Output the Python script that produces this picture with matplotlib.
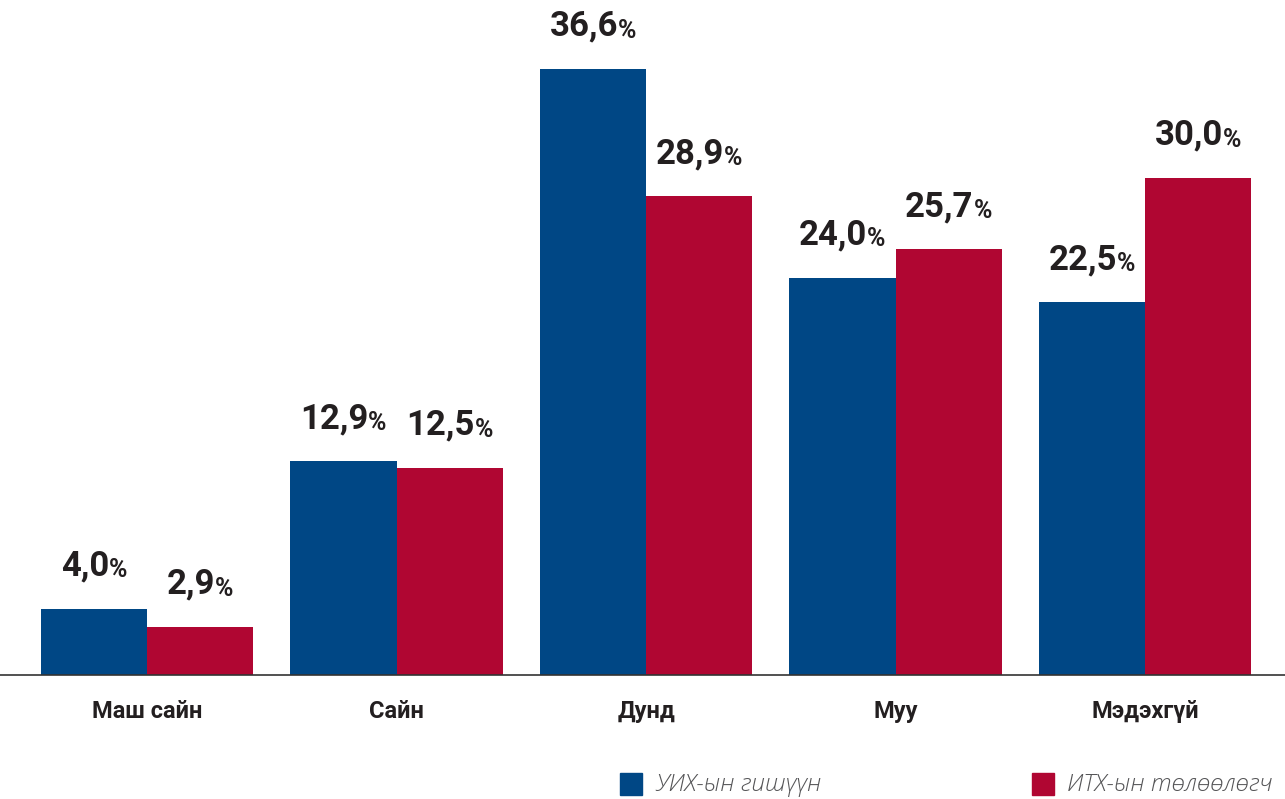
import matplotlib
matplotlib.use("Agg")
import matplotlib.pyplot as plt
from matplotlib import font_manager
import numpy as np

categories = ["Маш сайн", "Сайн", "Дунд", "Муу", "Мэдэхгүй"]
series_names = ["УИХ-ын гишүүн", "ИТХ-ын төлөөлөгч"]
uikh = [4.0, 12.9, 36.6, 24.0, 22.5]
itkh = [2.9, 12.5, 28.9, 25.7, 30.0]
colors = ["#004785", "#B00632"]

names = {f.name for f in font_manager.fontManager.ttflist}
cond = "Liberation Sans Narrow" if "Liberation Sans Narrow" in names else "Roboto"
label_family = [cond, "DejaVu Sans"]

fig = plt.figure(figsize=(12.85, 7.99), dpi=100)
ax = fig.add_axes([0, 1 - 675 / 799, 1, 675 / 799])

x = np.arange(len(categories))
w = 0.425
b1 = ax.bar(x - w / 2, uikh, w, color=colors[0], label=series_names[0])
b2 = ax.bar(x + w / 2, itkh, w, color=colors[1], label=series_names[1])

ax.set_xlim(-147 / 249.5, (1285 - 147) / 249.5)
ax.set_ylim(0, 675 / 16.56)
for s in ["top", "right", "left"]:
    ax.spines[s].set_visible(False)
ax.spines["bottom"].set_color("#333333")
ax.spines["bottom"].set_linewidth(1.2)
ax.set_yticks([])
ax.set_xticks(x)
ax.set_xticklabels(categories, fontsize=17, fontweight="bold", family=label_family, color="#231f20")
ax.tick_params(axis="x", length=0, pad=18)

fig.canvas.draw()
renderer = fig.canvas.get_renderer()

def fmt(v):
    return f"{v:.1f}".replace(".", ",")

OFF = 19
for bars, vals in ((b1, uikh), (b2, itkh)):
    for bar, v in zip(bars, vals):
        cx = bar.get_x() + bar.get_width() / 2
        num = ax.annotate(fmt(v), (cx, v), xytext=(0, OFF), textcoords="offset points",
                          ha="center", va="bottom", fontsize=25, fontweight="bold",
                          family=label_family, color="#231f20")
        pct = ax.annotate("%", (cx, v), xytext=(0, OFF), textcoords="offset points",
                          ha="left", va="bottom", fontsize=18, fontweight="bold",
                          family=label_family, color="#231f20")
        ne = num.get_window_extent(renderer)
        pe = pct.get_window_extent(renderer)
        total = ne.width + pe.width
        # center the number+% pair on the bar
        num.xyann = ((-(total / 2) + ne.width / 2) * 72 / fig.dpi, OFF)
        pct.xyann = ((-(total / 2) + ne.width) * 72 / fig.dpi, OFF)

# legend
for i, (name, c) in enumerate(zip(series_names, colors)):
    x0 = [620, 1032][i]
    fig.patches.append(plt.Rectangle((x0 / 1285, 1 - 795 / 799), 22 / 1285, 22 / 799,
                                     transform=fig.transFigure, color=c))
    fig.text((x0 + 35) / 1285, 1 - 785 / 799, name, fontsize=17.5, style="italic",
             color="#555557", va="center", ha="left", family=["Open Sans", "DejaVu Sans"],
             fontweight="light")

fig.savefig("out.png", dpi=100)
